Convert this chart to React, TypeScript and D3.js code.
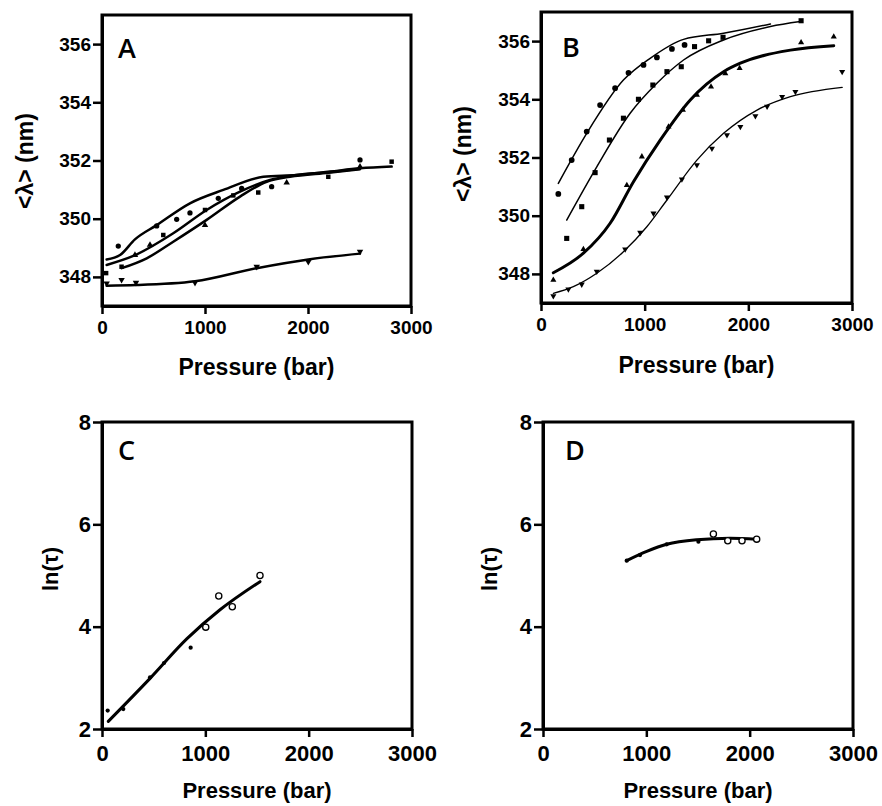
import * as d3 from 'd3';
import React, { useRef, useEffect } from 'react';

// axis ticks
const pressureTicks = [0, 1000, 2000, 3000];
const lambdaTicks = [348, 350, 352, 354, 356];
const lnTauTicks = [2, 4, 6, 8];

// Panel A : [pressure (bar), <lambda> (nm)]
const aCircles = [[158, 349.06], [531, 349.75], [725, 349.98], [854, 350.2], [1129, 350.7], [1356, 351.04], [1647, 351.1], [2505, 352.02]];
const aSquares = [[40, 348.13], [190, 348.35], [595, 349.44], [1000, 350.3], [1275, 350.8], [1517, 350.9], [2197, 351.44], [2812, 351.96]];
const aTriUp = [[320, 348.75], [466, 349.1], [1000, 349.78], [1793, 351.24], [2505, 351.79]];
const aTriDown = [[45, 347.78], [190, 347.9], [330, 347.8], [903, 347.8], [1502, 348.35], [2003, 348.52], [2505, 348.87]];
const aFit1 = [[45, 348.6], [175, 348.75], [320, 349.29], [531, 349.78], [854, 350.53], [1178, 350.99], [1566, 351.44], [1890, 351.5], [2214, 351.62], [2505, 351.73], [2812, 351.79]];
const aFit2 = [[45, 348.41], [304, 348.72], [692, 349.5], [1016, 350.3], [1340, 350.93], [1631, 351.33], [1825, 351.47], [2200, 351.6], [2505, 351.72]];
const aFit3 = [[191, 348.3], [434, 348.64], [692, 349.21], [1016, 349.96], [1340, 350.76], [1599, 351.27], [1825, 351.44], [2200, 351.58], [2505, 351.7]];
const aFit4 = [[45, 347.7], [330, 347.72], [903, 347.85], [1502, 348.3], [2003, 348.6], [2505, 348.8]];

// Panel B
const bCircles = [[167, 350.75], [296, 351.91], [441, 352.89], [570, 353.8], [715, 354.38], [844, 354.91], [989, 355.18], [1118, 355.44], [1263, 355.73], [1385, 355.87]];
const bSquares = [[248, 349.22], [393, 350.31], [522, 351.48], [660, 352.6], [795, 353.35], [940, 354.0], [1079, 354.49], [1215, 354.95], [1353, 355.12], [1481, 355.81], [1617, 356.01], [1756, 356.13], [2509, 356.7]];
const bTriUp = [[119, 347.79], [409, 348.85], [828, 351.05], [973, 352.03], [1230, 353.06], [1369, 353.63], [1504, 354.15], [1640, 354.43], [1778, 354.89], [1916, 355.07], [2509, 355.95], [2824, 356.15]];
const bTriDown = [[119, 347.24], [264, 347.47], [393, 347.64], [538, 348.08], [812, 348.85], [957, 349.42], [1085, 350.08], [1215, 350.63], [1359, 351.25], [1504, 351.74], [1649, 352.31], [1794, 352.77], [1923, 353.06], [2068, 353.43], [2181, 353.75], [2326, 354.09], [2454, 354.26], [2905, 354.95]];
const bFit1 = [[167, 351.11], [441, 352.83], [795, 354.66], [1053, 355.41], [1375, 356.06], [1761, 356.27], [2213, 356.59]];
const bFit2 = [[248, 349.85], [538, 351.68], [860, 353.52], [1118, 354.55], [1375, 355.35], [1761, 356.04], [2213, 356.5], [2502, 356.67]];
const bFit3 = [[119, 348.04], [409, 348.71], [667, 349.74], [892, 351.17], [1150, 352.6], [1440, 353.98], [1761, 354.95], [1923, 355.24], [2406, 355.69], [2824, 355.84]];
const bFit4 = [[119, 347.33], [312, 347.56], [538, 348.02], [795, 348.76], [1021, 349.62], [1215, 350.54], [1504, 351.91], [1761, 352.83], [2084, 353.63], [2406, 354.09], [2905, 354.41]];

// Panel C : [pressure, ln(tau)]
const cFilled = [[55, 2.36], [206, 2.39], [465, 3.01], [600, 3.29], [858, 3.59]];
const cOpen = [[1004, 3.99], [1130, 4.6], [1261, 4.39], [1529, 5.0]];
const cFit = [[61, 2.15], [465, 2.99], [820, 3.76], [1142, 4.33], [1529, 4.88]];

// Panel D
const dFilled = [[810, 5.29], [939, 5.4], [1197, 5.61], [1504, 5.66]];
const dOpen = [[1649, 5.81], [1788, 5.68], [1926, 5.68], [2068, 5.71]];
const dFit = [[810, 5.29], [1004, 5.47], [1197, 5.61], [1488, 5.7], [1810, 5.73], [2068, 5.71]];

const FONT = "'Liberation Sans', Arial, sans-serif";

const App = () => {
  const ref = useRef(null);

  useEffect(() => {
    draw();
  });

  const drawPanel = (svg, p) => {
    const g = svg.append('g');
    const x = d3.scaleLinear().domain([0, 3000]).range([p.left, p.right]);
    const y = d3.scaleLinear().domain(p.yDomain).range([p.bottom, p.top]);

    // frame
    g.append('rect')
      .attr('x', p.left).attr('y', p.top)
      .attr('width', p.right - p.left).attr('height', p.bottom - p.top)
      .attr('fill', 'none').attr('stroke', '#000').attr('stroke-width', 3);

    const xAxis = g.append('g')
      .attr('transform', 'translate(0,' + p.bottom + ')')
      .call(d3.axisBottom(x).tickValues(pressureTicks).tickFormat(d3.format('d'))
        .tickSize(8).tickSizeOuter(0).tickPadding(p.xPad));
    const yAxis = g.append('g')
      .attr('transform', 'translate(' + p.left + ',0)')
      .call(d3.axisLeft(y).tickValues(p.yTicks).tickFormat(d3.format('d'))
        .tickSize(9).tickSizeOuter(0).tickPadding(2));
    [xAxis, yAxis].forEach((ax) => {
      ax.select('.domain').attr('stroke-width', 3);
      ax.selectAll('.tick line').attr('stroke-width', 2.5);
      ax.selectAll('text')
        .attr('fill', '#000')
        .style('font-family', FONT)
        .style('font-weight', 'bold')
        .style('font-size', p.tickFont + 'px');
    });

    // axis titles
    g.append('text')
      .attr('x', (p.left + p.right) / 2).attr('y', p.xTitleY)
      .attr('text-anchor', 'middle')
      .style('font-family', FONT).style('font-weight', 'bold').style('font-size', p.titleFont + 'px')
      .text('Pressure (bar)');
    g.append('text')
      .attr('transform', 'translate(' + p.yTitleX + ',' + p.yTitleY + ') rotate(-90)')
      .attr('text-anchor', 'middle')
      .attr('dy', '0.35em')
      .style('font-family', FONT).style('font-weight', 'bold').style('font-size', p.titleFont + 'px')
      .text(p.yTitle);

    // panel letter
    g.append('text')
      .attr('x', p.left + p.letterDx).attr('y', p.letterY)
      .style('font-family', "'Open Sans', sans-serif").style('font-weight', 600).style('font-size', '27px')
      .text(p.letter);

    const line = d3.line().x((d) => x(d[0])).y((d) => y(d[1])).curve(d3.curveMonotoneX);
    p.lines.forEach((l) => {
      g.append('path')
        .datum(l.data)
        .attr('fill', 'none')
        .attr('stroke', '#000')
        .attr('stroke-width', l.width)
        .attr('stroke-linejoin', 'round')
        .attr('stroke-linecap', 'round')
        .attr('d', line);
    });

    p.points.forEach((s) => {
      const sym = d3.symbol().type(s.type).size(s.size);
      g.selectAll(null)
        .data(s.data)
        .enter()
        .append('path')
        .attr('d', sym)
        .attr('transform', (d) => 'translate(' + x(d[0]) + ',' + y(d[1]) + ')' + (s.flip ? ' rotate(180)' : ''))
        .attr('fill', s.open ? '#fff' : '#000')
        .attr('stroke', '#000')
        .attr('stroke-width', s.open ? 1.3 : 0);
    });
  };

  const draw = () => {
    const svg = d3.select(ref.current);
    svg.selectAll('*').remove();

    drawPanel(svg, {
      left: 102, right: 411, top: 15, bottom: 306,
      yDomain: [347, 357], yTicks: lambdaTicks, xPad: 7, tickFont: 19, titleFont: 23,
      xTitleY: 375, yTitle: '<λ> (nm)', yTitleX: 25, yTitleY: 161,
      letter: 'A', letterDx: 16, letterY: 58,
      lines: [
        { data: aFit1, width: 2.5 }, { data: aFit2, width: 2.5 },
        { data: aFit3, width: 2.5 }, { data: aFit4, width: 2.5 },
      ],
      points: [
        { data: aCircles, type: d3.symbolCircle, size: 22 },
        { data: aSquares, type: d3.symbolSquare, size: 20 },
        { data: aTriUp, type: d3.symbolTriangle, size: 18 },
        { data: aTriDown, type: d3.symbolTriangle, size: 18, flip: true },
      ],
    });

    drawPanel(svg, {
      left: 541, right: 852, top: 12, bottom: 303,
      yDomain: [347, 357], yTicks: lambdaTicks, xPad: 7, tickFont: 19, titleFont: 23,
      xTitleY: 373, yTitle: '<λ> (nm)', yTitleX: 463, yTitleY: 154,
      letter: 'B', letterDx: 21, letterY: 57,
      lines: [
        { data: bFit1, width: 1.5 }, { data: bFit2, width: 1.5 },
        { data: bFit3, width: 3 }, { data: bFit4, width: 1.3 },
      ],
      points: [
        { data: bCircles, type: d3.symbolCircle, size: 26 },
        { data: bSquares, type: d3.symbolSquare, size: 26 },
        { data: bTriUp, type: d3.symbolTriangle, size: 16 },
        { data: bTriDown, type: d3.symbolTriangle, size: 16, flip: true },
      ],
    });

    drawPanel(svg, {
      left: 102, right: 412, top: 422, bottom: 729,
      yDomain: [2, 8], yTicks: lnTauTicks, xPad: 8, tickFont: 22, titleFont: 22,
      xTitleY: 798, yTitle: 'ln(τ)', yTitleX: 50, yTitleY: 569,
      letter: 'C', letterDx: 16, letterY: 460,
      lines: [{ data: cFit, width: 3 }],
      points: [
        { data: cFilled, type: d3.symbolCircle, size: 14 },
        { data: cOpen, type: d3.symbolCircle, size: 30, open: true },
      ],
    });

    drawPanel(svg, {
      left: 543, right: 853, top: 422, bottom: 729,
      yDomain: [2, 8], yTicks: lnTauTicks, xPad: 8, tickFont: 22, titleFont: 22,
      xTitleY: 798, yTitle: 'ln(τ)', yTitleX: 489, yTitleY: 569,
      letter: 'D', letterDx: 22, letterY: 460,
      lines: [{ data: dFit, width: 3 }],
      points: [
        { data: dFilled, type: d3.symbolCircle, size: 14 },
        { data: dOpen, type: d3.symbolCircle, size: 30, open: true },
      ],
    });
  };

  return (
    <svg ref={ref} width={882} height={806} style={{ position: 'absolute', left: 0, top: 0, background: '#fff' }}></svg>
  );
};

export default App;
